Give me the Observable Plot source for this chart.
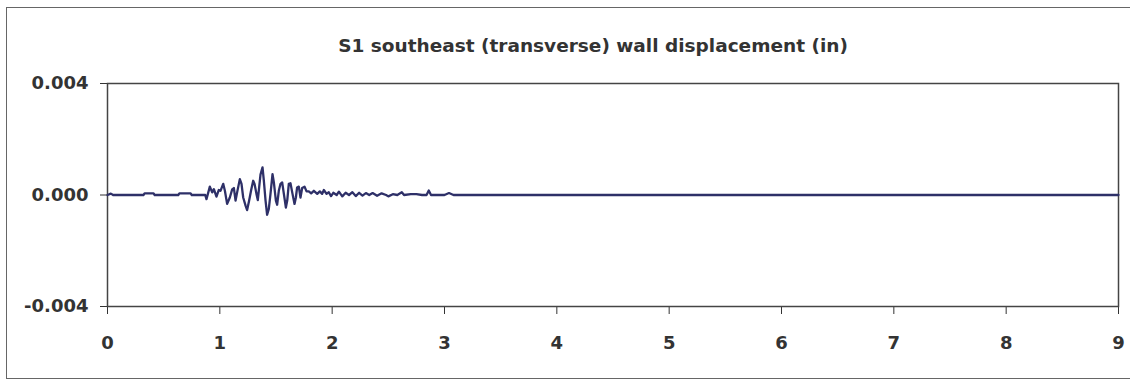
<!DOCTYPE html>
<html>
<head>
<meta charset="utf-8">
<script src="https://cdn.jsdelivr.net/npm/d3@7"></script>
<script src="https://cdn.jsdelivr.net/npm/@observablehq/plot@0.6"></script>
<style>
  html, body { margin: 0; padding: 0; background: #fff; }
  #wrap { position: relative; width: 1130px; height: 381px; overflow: hidden; }
  #border { position: absolute; left: 6px; top: 7px; width: 1140px; height: 372px; border: 1.5px solid #666; box-sizing: border-box; }
  #title { position: absolute; left: 0; width: 1186px; top: 35px; text-align: center;
           font-family: "DejaVu Sans", sans-serif; font-weight: bold; font-size: 18.5px; color: #333; }
  #chart { position: absolute; left: 0; top: 0; }
</style>
</head>
<body>
<div id="wrap">
  <div id="border"></div>
  <div id="title">S1 southeast (transverse) wall displacement (in)</div>
  <div id="chart"></div>
</div>
<script>
const titleText = "S1 southeast (transverse) wall displacement (in)";
const xTicks = [0, 1, 2, 3, 4, 5, 6, 7, 8, 9];
const yTicks = [-0.004, 0, 0.004];

const time = [
  0, 0.03, 0.05, 0.32, 0.33, 0.41, 0.42, 0.63, 0.64, 0.74, 0.75, 0.87,
  0.881, 0.911, 0.932, 0.947, 0.970, 0.991, 1.006, 1.030, 1.045, 1.065,
  1.089, 1.110, 1.125, 1.140, 1.154, 1.178, 1.193, 1.208, 1.229, 1.243,
  1.261, 1.279, 1.297, 1.309, 1.326, 1.338, 1.350, 1.362, 1.380, 1.392,
  1.407, 1.421, 1.436, 1.451, 1.469, 1.481, 1.499, 1.510, 1.525, 1.540,
  1.555, 1.570, 1.588, 1.600, 1.614, 1.629, 1.647, 1.665, 1.677, 1.688,
  1.703, 1.718, 1.733, 1.754, 1.772, 1.792, 1.813, 1.837, 1.867, 1.890,
  1.911, 1.926, 1.950,
  1.97, 1.99, 2.01, 2.04, 2.06, 2.09, 2.12, 2.15, 2.18, 2.21, 2.24, 2.27,
  2.30, 2.33, 2.36, 2.40, 2.44, 2.48, 2.50, 2.54, 2.58, 2.62, 2.64, 2.70,
  2.75, 2.80, 2.84, 2.86, 2.88, 2.92, 3.00, 3.04, 3.08, 3.10, 9.0
];
const disp = [
  0, 0.00005, 0, 0, 0.00006, 0.00006, 0, 0, 0.00006, 0.00006, 0, 0,
  -0.00015, 0.00030, 0.000095, 0.00021, -0.00006, 0.00018, 0.00015, 0.00040, 0.00015, -0.00032,
  -0.00009, 0.00020, 0.00025, -0.00020, 0.000095, 0.00057, 0.00040, -0.00009, -0.00038, -0.00054,
  -0.00020, 0.00018, 0.00051, 0.00040, 0.00004, -0.00018, 0.00027, 0.00073, 0.00099, 0.00051,
  -0.00020, -0.00071, -0.00050, 0.00004, 0.00075, 0.00045, -0.00020, -0.00035, 0.00015, 0.00040,
  0.00045, 0.00004, -0.00045, -0.00020, 0.00040, 0.00042, 0.00004, -0.00032, -0.00009, 0.00027,
  0.00030, -0.00009, 0.00025, 0.00030, 0.00013, 0.00013, 0.00006, 0.00015, 0.00004, 0.00013,
  0.00004, 0.00018, 0.00004,
  0.00010, -0.00004, 0.00008, 0.0, 0.00012, -0.00005, 0.00008, 0.0, 0.00010, -0.00004, 0.00008, -0.00002,
  0.00007, 0.0, 0.00007, -0.00003, 0.00006, 0.0, -0.00005, 0.00003, 0.0, 0.00010, 0.0, 0.00003,
  0.00003, 0.0, 0.0, 0.00016, 0.0, 0.0, 0.0, 0.00007, 0.0, 0.0, 0.0
];

const data = d3.zip(time, disp).map(([t, v]) => ({t, v}));
const font = '"DejaVu Sans", sans-serif';

const chart = Plot.plot({
  width: 1130,
  height: 381,
  marginLeft: 107,
  marginRight: 12,
  marginTop: 83,
  marginBottom: 75,
  style: { fontFamily: font, fontSize: "18px", fontWeight: "bold", color: "#333", background: "transparent" },
  x: { domain: [0, 9], ticks: xTicks, tickSize: 8, tickPadding: 22, label: null, tickFormat: d => String(d) },
  y: { domain: [-0.004, 0.004], ticks: yTicks, tickSize: 7, tickPadding: 12, label: null, tickFormat: d => d.toFixed(3) },
  marks: [
    Plot.frame({ stroke: "#444", strokeWidth: 1.5 }),
    Plot.line(data, { x: "t", y: "v", stroke: "#2e3068", strokeWidth: 2.3 })
  ]
});
document.getElementById("chart").appendChild(chart);
</script>
</body>
</html>
